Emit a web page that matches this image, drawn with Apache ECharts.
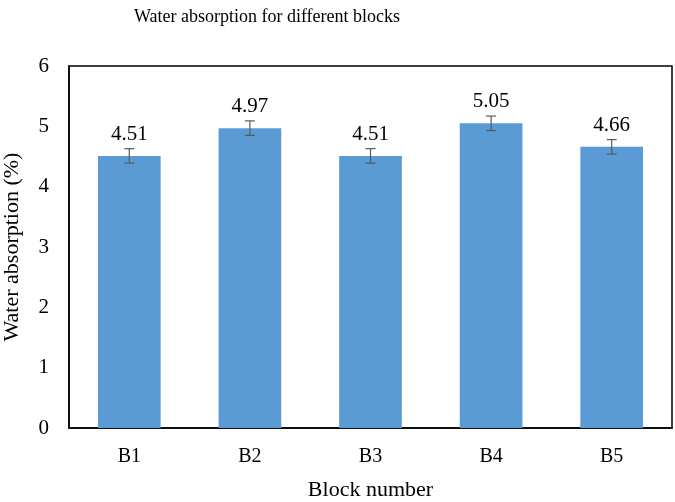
<!DOCTYPE html>
<html>
<head>
<meta charset="utf-8">
<script src="https://cdn.jsdelivr.net/npm/echarts@6/dist/echarts.min.js"></script>
<style>
  html, body { margin: 0; padding: 0; background: #fff; }
  #main { width: 675px; height: 502px; }
</style>
</head>
<body>
<div id="main"></div>
<script>
var blocks = ['B1', 'B2', 'B3', 'B4', 'B5'];
var absorption = [4.51, 4.97, 4.51, 5.05, 4.66];
var errors = [0.12, 0.12, 0.12, 0.12, 0.12];
var yTicks = [0, 1, 2, 3, 4, 5, 6];

var fontFam = '"Liberation Serif", "Times New Roman", serif';

var errData = [];
for (var i = 0; i < blocks.length; i++) {
    errData.push([i, absorption[i] - errors[i], absorption[i] + errors[i]]);
}

var chart = echarts.init(document.getElementById('main'));

var opt = {
    animation: false,
    title: {
        text: 'Water absorption for different blocks',
        left: 262,
        textAlign: 'center',
        top: 3,
        textStyle: { color: '#000', fontFamily: fontFam, fontSize: 18, fontWeight: 'normal' }
    },
    grid: {
        left: 69,
        right: 3,
        top: 66,
        bottom: 74,
        outerBoundsMode: 'none',
        containLabel: false,
        show: true,
        borderColor: '#000',
        borderWidth: 1.5,
        backgroundColor: 'transparent'
    },
    xAxis: {
        type: 'category',
        data: blocks,
        name: 'Block number',
        nameLocation: 'middle',
        nameGap: 51,
        nameTextStyle: { color: '#000', fontFamily: fontFam, fontSize: 22 },
        axisLine: { lineStyle: { color: '#000', width: 1.5 } },
        axisTick: { show: false },
        axisLabel: { color: '#000', fontFamily: fontFam, fontSize: 20, margin: 19 }
    },
    yAxis: {
        type: 'value',
        min: yTicks[0],
        max: yTicks[yTicks.length - 1],
        interval: 1,
        name: 'Water absorption (%)',
        nameLocation: 'middle',
        nameGap: 46,
        nameTextStyle: { color: '#000', fontFamily: fontFam, fontSize: 22 },
        axisLine: { show: true, lineStyle: { color: '#000', width: 1.5 } },
        axisTick: { show: false },
        splitLine: { show: false },
        axisLabel: { color: '#000', fontFamily: fontFam, fontSize: 21, margin: 20 }
    },
    series: [
        {
            name: 'Water absorption',
            type: 'bar',
            data: absorption,
            barWidth: '52%',
            itemStyle: { color: '#5B9BD5' },
            label: {
                show: true,
                position: 'top',
                distance: 11,
                color: '#000',
                fontFamily: fontFam,
                fontSize: 21,
                formatter: function (p) { return p.value.toFixed(2); }
            }
        },
        {
            type: 'custom',
            data: errData,
            z: 10,
            renderItem: function (params, api) {
                var x = api.value(0);
                var lo = api.coord([x, api.value(1)]);
                var hi = api.coord([x, api.value(2)]);
                var cap = 5;
                var st = { stroke: '#595959', lineWidth: 1.2 };
                return {
                    type: 'group',
                    children: [
                        { type: 'line', shape: { x1: hi[0], y1: hi[1], x2: lo[0], y2: lo[1] }, style: st },
                        { type: 'line', shape: { x1: hi[0] - cap, y1: hi[1], x2: hi[0] + cap, y2: hi[1] }, style: st },
                        { type: 'line', shape: { x1: lo[0] - cap, y1: lo[1], x2: lo[0] + cap, y2: lo[1] }, style: st }
                    ]
                };
            }
        }
    ]
};
chart.setOption(opt);
</script>
</body>
</html>
